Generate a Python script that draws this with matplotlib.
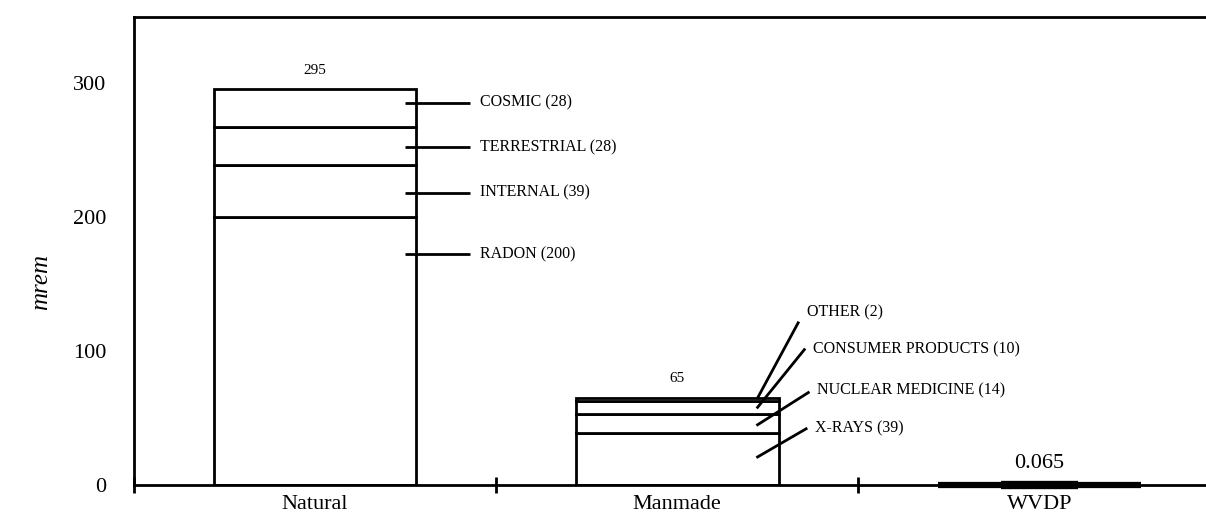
import numpy as np
import matplotlib
matplotlib.use('Agg')
import matplotlib.pyplot as plt

plt.rcParams['font.family'] = ['Liberation Serif', 'DejaVu Serif']

# Category bars
categories = ['Natural', 'Manmade', 'WVDP']
totals = [295, 65, 0.065]
total_labels = ['295', '65', '0.065']

# Stacked components (bottom to top)
natural_names = ['RADON', 'INTERNAL', 'TERRESTRIAL', 'COSMIC']
natural_vals = [200, 39, 28, 28]
manmade_names = ['X-RAYS', 'NUCLEAR MEDICINE', 'CONSUMER PRODUCTS', 'OTHER']
manmade_vals = [39, 14, 10, 2]
wvdp_val = 0.065

# label anchor heights
natural_label_y = [172, 218, 252, 285]
manmade_start_y = [21, 45, 58, 65]
manmade_end_y = [42, 69, 101, 121]
manmade_end_x = [1.856, 1.862, 1.851, 1.834]
manmade_text_y = [42.5, 71, 101, 129]

fig = plt.figure(figsize=(12.06, 5.15), dpi=100)
ax = fig.add_axes([0.111, 0.058, 0.889, 0.909])

xpos = np.arange(len(categories)) + 0.5
width = 0.56

# Natural stack
bottom = 0
for v in natural_vals:
    ax.bar(xpos[0], v, width, bottom=bottom, color='white', edgecolor='black', linewidth=2)
    bottom += v

# Manmade stack
bottom = 0
for v in manmade_vals:
    ax.bar(xpos[1], v, width, bottom=bottom, color='white', edgecolor='black', linewidth=2)
    bottom += v

# WVDP (tiny) - drawn as a thick bar on the baseline
ax.bar(xpos[2], wvdp_val, width, color='black', edgecolor='black', linewidth=4.5,
       zorder=4, clip_on=False)
ax.bar(xpos[2], wvdp_val, width * 0.38, color='black', edgecolor='black', linewidth=6,
       zorder=4, clip_on=False, joinstyle='round')

# totals above bars
for x, t, lab in zip(xpos, totals, total_labels):
    fs = 16 if lab == '0.065' else 11
    ax.annotate(lab, (x, t), xytext=(0, 9), textcoords='offset points',
                ha='center', va='bottom', fontsize=fs)

# Natural callouts
for name, v, y in zip(natural_names, natural_vals, natural_label_y):
    ax.plot([0.749, 0.928], [y, y], color='black', linewidth=2, solid_capstyle='butt')
    ax.text(0.956, y, f'{name} ({v})', ha='left', va='center', fontsize=11.5)

# Manmade callouts
for name, v, y0, y1, x1, ty in zip(manmade_names, manmade_vals, manmade_start_y,
                                    manmade_end_y, manmade_end_x, manmade_text_y):
    ax.plot([1.722, x1], [y0, y1], color='black', linewidth=2)
    ax.text(x1 + 0.025, ty, f'{name} ({v})', ha='left', va='center', fontsize=11.5)

ax.set_xlim(0, 2.96)
ax.set_ylim(0, 349)

ax.set_yticks([0, 100, 200, 300])
ax.tick_params(axis='y', length=0, labelsize=16, pad=20)

ax.set_xticks([0, 1, 2])
ax.set_xticklabels([])
ax.tick_params(axis='x', which='major', direction='inout', length=12, width=2)
ax.set_xticks(xpos, minor=True)
ax.set_xticklabels(categories, minor=True)
ax.tick_params(axis='x', which='minor', length=0, labelsize=16, pad=7)

ax.set_ylabel('mrem', fontsize=18, style='italic')
ax.yaxis.set_label_coords(-0.076, 0.434)

for s in ['left', 'bottom', 'top']:
    ax.spines[s].set_linewidth(2)
ax.spines['right'].set_visible(False)

fig.savefig('out.png', dpi=100)
